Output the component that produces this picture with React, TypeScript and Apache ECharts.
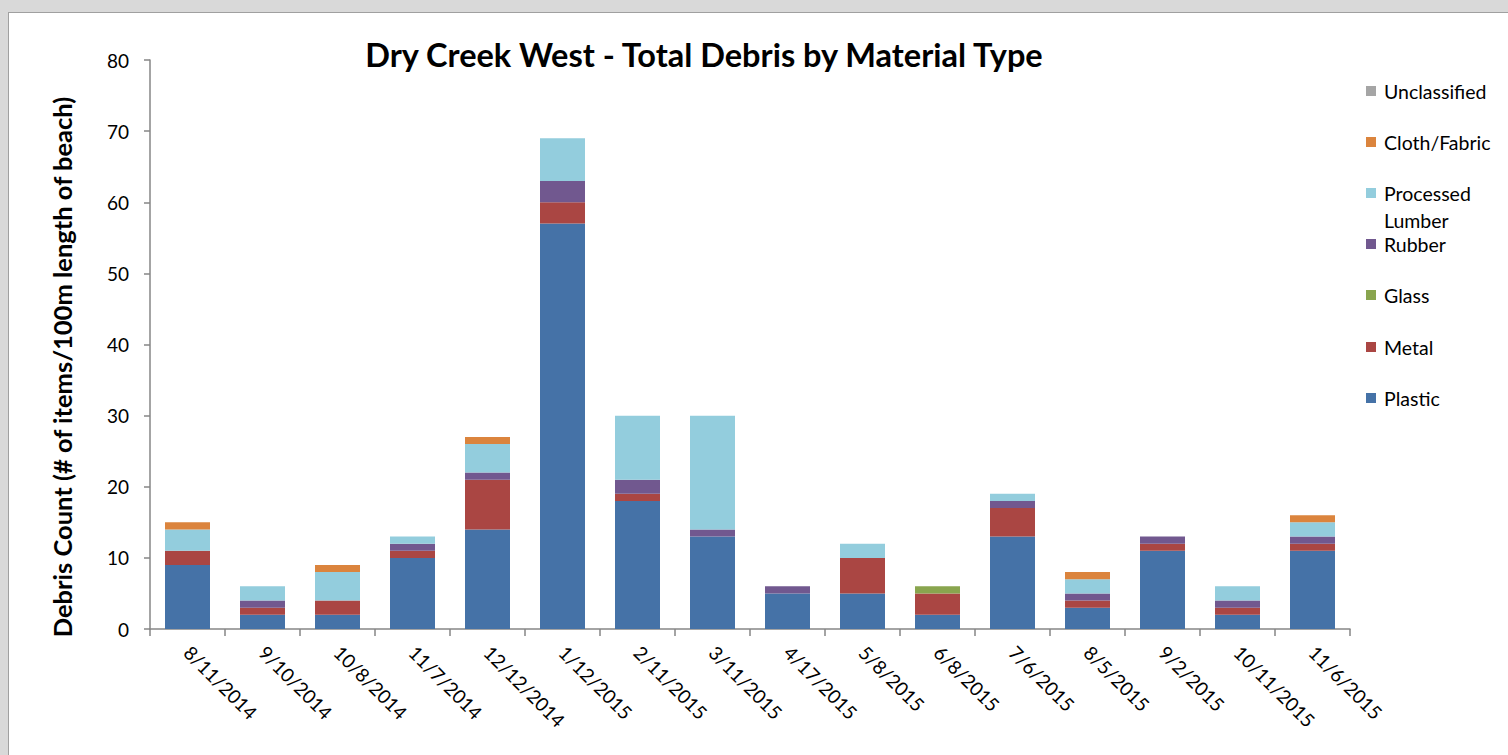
import React, { useEffect, useRef } from "react";
import * as echarts from "echarts";

const categories = [
  "8/11/2014", "9/10/2014", "10/8/2014", "11/7/2014", "12/12/2014", "1/12/2015",
  "2/11/2015", "3/11/2015", "4/17/2015", "5/8/2015", "6/8/2015", "7/6/2015",
  "8/5/2015", "9/2/2015", "10/11/2015", "11/6/2015",
];

const plastic = [9, 2, 2, 10, 14, 57, 18, 13, 5, 5, 2, 13, 3, 11, 2, 11];
const metal = [2, 1, 2, 1, 7, 3, 1, 0, 0, 5, 3, 4, 1, 1, 1, 1];
const glass = [0, 0, 0, 0, 0, 0, 0, 0, 0, 0, 1, 0, 0, 0, 0, 0];
const rubber = [0, 1, 0, 1, 1, 3, 2, 1, 1, 0, 0, 1, 1, 1, 1, 1];
const lumber = [3, 2, 4, 1, 4, 6, 9, 16, 0, 2, 0, 1, 2, 0, 2, 2];
const cloth = [1, 0, 1, 0, 1, 0, 0, 0, 0, 0, 0, 0, 1, 0, 0, 1];
const unclassified = [0, 0, 0, 0, 0, 0, 0, 0, 0, 0, 0, 0, 0, 0, 0, 0];

const yTicks = [0, 10, 20, 30, 40, 50, 60, 70, 80];

const seriesDefs = [
  { name: "Plastic", data: plastic, color: "#4572A7" },
  { name: "Metal", data: metal, color: "#AA4643" },
  { name: "Glass", data: glass, color: "#89A54E" },
  { name: "Rubber", data: rubber, color: "#71588F" },
  { name: "Processed Lumber", data: lumber, color: "#93CDDD" },
  { name: "Cloth/Fabric", data: cloth, color: "#DB843D" },
  { name: "Unclassified", data: unclassified, color: "#A5A5A5" },
];

const legendOrder = ["Unclassified", "Cloth/Fabric", "Processed Lumber", "Rubber", "Glass", "Metal", "Plastic"];

const FONT = "Lato, 'Open Sans', sans-serif";
const OX = 9;
const OY = 13;

export default function App() {
  const ref = useRef<HTMLDivElement>(null);

  useEffect(() => {
    if (!ref.current) return;
    const chart = echarts.init(ref.current, null, { renderer: "svg" });

    const legendCenters = [91, 142, 193, 244, 295, 347, 398];
    const legends = legendOrder.map((name, i) => {
      const isLumber = name === "Processed Lumber";
      const c = legendCenters[i] - OY;
      return {
        orient: "vertical",
        left: 1366 - OX,
        top: c - 11,
        padding: 0,
        itemWidth: 10,
        itemHeight: 10,
        itemGap: 0,
        selectedMode: false,
        icon: "rect",
        data: [name],
        formatter: isLumber ? "Processed" : "{name}",
        textStyle: {
          fontFamily: FONT,
          fontSize: 19.5,
          color: "#000",
          lineHeight: 22,
          padding: [0, 0, 0, 3],
        },
      };
    });

    chart.setOption({
      animation: false,
      backgroundColor: "#ffffff",
      textStyle: { fontFamily: FONT },
      grid: { left: 150 - OX, top: 60 - OY, width: 1200, height: 569, containLabel: false },
      legend: legends,
      xAxis: {
        type: "category",
        data: categories,
        boundaryGap: true,
        axisLine: { lineStyle: { color: "#868686", width: 1.5 } },
        axisTick: { show: true, length: 7, lineStyle: { color: "#868686", width: 1.5 } },
        axisLabel: {
          rotate: -45,
          interval: 0,
          margin: 20,
          fontFamily: FONT,
          fontSize: 19,
          color: "#000",
        },
      },
      yAxis: {
        type: "value",
        min: 0,
        max: yTicks[yTicks.length - 1],
        interval: 10,
        splitLine: { show: false },
        axisLine: { show: true, lineStyle: { color: "#868686", width: 1.5 } },
        axisTick: { show: true, length: 6, lineStyle: { color: "#868686", width: 1.5 } },
        axisLabel: { margin: 21, fontFamily: FONT, fontSize: 19, color: "#000" },
      },
      series: seriesDefs.map((s) => ({
        name: s.name,
        type: "bar",
        stack: "total",
        data: s.data,
        barWidth: 45,
        itemStyle: { color: s.color },
        emphasis: { disabled: true },
      })),
      graphic: [
        {
          type: "text",
          x: 704 - OX,
          y: 54 - OY,
          style: {
            text: "Dry Creek West - Total Debris by Material Type",
            font: `bold 32.5px ${FONT}`,
            fill: "#000",
            align: "center",
            verticalAlign: "middle",
          },
        },
        {
          type: "text",
          x: 62 - OX,
          y: 367 - OY,
          rotation: Math.PI / 2,
          style: {
            text: "Debris Count (# of items/100m length of beach)",
            font: `bold 25.5px ${FONT}`,
            fill: "#000",
            align: "center",
            verticalAlign: "middle",
          },
        },
        {
          type: "text",
          x: 1384 - OX,
          y: 220 - OY,
          style: {
            text: "Lumber",
            font: `19.5px ${FONT}`,
            fill: "#000",
            align: "left",
            verticalAlign: "middle",
          },
        },
      ],
    });

    return () => chart.dispose();
  }, []);

  return (
    <div style={{ position: "fixed", left: 0, top: 0, width: 1508, height: 755, background: "#d9d9d9", overflow: "hidden" }}>
      <div
        style={{
          position: "absolute",
          left: 8,
          top: 12,
          width: 1499,
          height: 742,
          borderLeft: "1px solid #a0a0a0",
          borderTop: "1px solid #a0a0a0",
          background: "#fff",
        }}
      >
        <div ref={ref} style={{ width: 1499, height: 742 }} />
      </div>
    </div>
  );
}
